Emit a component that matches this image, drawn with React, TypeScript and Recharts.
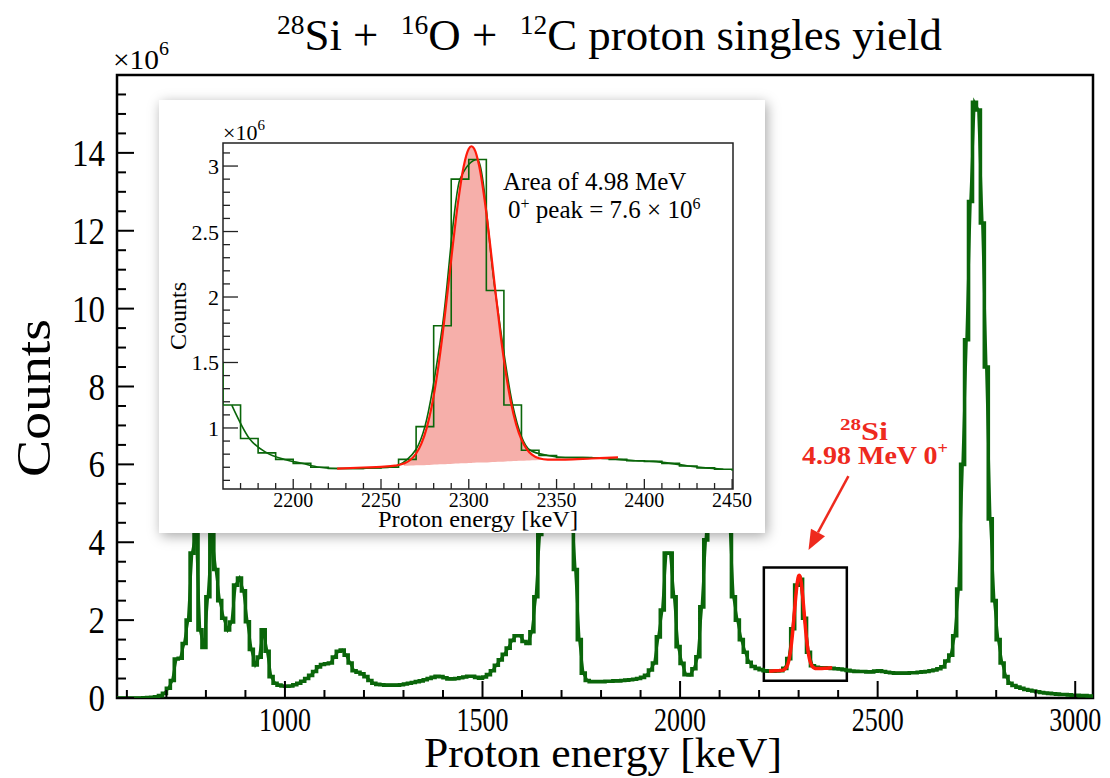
import React from 'react';
import {
  Area,
  ComposedChart,
  Line,
  ReferenceArea,
  ReferenceLine,
  XAxis,
  YAxis,
} from 'recharts';

const SERIF = '"Liberation Serif", "Times New Roman", serif';
const GREEN = '#0a660a';
const FIT_RED = '#ff1a0a';
const NOTE_RED = '#ee2a1e';

// proton singles histogram: 10 keV bins, first bin starts at 570 keV, counts in units of 1e6
const BIN_START = 570;
const BIN_WIDTH = 10;
const COUNTS = [
  0, 0, 0, 0, 0, 0, 0, 0.005, 0.01, 0.02, // 570
  0.03, 0.06, 0.12, 0.25, 0.45, 1.0, 1.02, 1.4, 2.0, 3.72, // 670
  4.25, 1.75, 1.3, 2.6, 4.2, 3.3, 2.5, 2.05, 1.75, 1.95, // 770
  2.9, 3.08, 2.75, 1.96, 1.25, 0.85, 1.05, 1.75, 1.2, 0.55, // 870
  0.38, 0.33, 0.31, 0.3, 0.31, 0.34, 0.38, 0.43, 0.5, 0.58, // 970
  0.68, 0.8, 0.86, 0.88, 0.9, 1.05, 1.2, 1.23, 1.1, 0.9, // 1070
  0.7, 0.66, 0.62, 0.55, 0.45, 0.38, 0.35, 0.34, 0.33, 0.33, // 1170
  0.33, 0.33, 0.34, 0.36, 0.38, 0.4, 0.42, 0.44, 0.47, 0.5, // 1270
  0.53, 0.56, 0.55, 0.52, 0.49, 0.49, 0.5, 0.52, 0.54, 0.56, // 1370
  0.56, 0.53, 0.51, 0.54, 0.6, 0.7, 0.84, 0.98, 1.12, 1.28, // 1470
  1.48, 1.6, 1.6, 1.45, 1.4, 1.7, 2.6, 4.2, 6.0, 7.6, // 1570
  8.4, 8.6, 8.2, 7.2, 6.0, 5.0, 3.3, 1.5, 0.64, 0.45, // 1670
  0.42, 0.42, 0.42, 0.42, 0.43, 0.43, 0.44, 0.44, 0.45, 0.46, // 1770
  0.47, 0.48, 0.5, 0.53, 0.58, 0.72, 0.9, 1.57, 2.26, 3.72, // 1870
  3.72, 2.6, 1.32, 0.89, 0.6, 0.59, 0.75, 1.06, 2.34, 4.06, // 1970
  5.6, 6.5, 6.8, 6.6, 6.0, 4.6, 2.6, 2.0, 1.5, 1.175, // 2070
  0.92, 0.81, 0.76, 0.73, 0.7, 0.69, 0.69, 0.695, 0.7, 0.76, // 2170
  1.01, 1.78, 2.9, 3.05, 2.05, 1.175, 0.83, 0.79, 0.775, 0.775, // 2270
  0.77, 0.76, 0.75, 0.745, 0.73, 0.71, 0.695, 0.685, 0.68, 0.68, // 2370
  0.67, 0.67, 0.69, 0.7, 0.68, 0.66, 0.65, 0.64, 0.64, 0.64, // 2470
  0.64, 0.65, 0.65, 0.66, 0.67, 0.68, 0.7, 0.72, 0.75, 0.8, // 2570
  0.95, 1.1, 1.6, 2.8, 6.0, 9.2, 12.75, 15.3, 15.1, 12.2, // 2670
  8.5, 4.6, 2.5, 1.5, 0.9, 0.55, 0.38, 0.32, 0.28, 0.25, // 2770
  0.22, 0.2, 0.18, 0.16, 0.14, 0.13, 0.12, 0.11, 0.1, 0.09, // 2870
  0.09, 0.08, 0.07, 0.07, 0.06, 0.06, 0.05, 0.05, // 2970
];

// gaussian + linear background fit of the 4.98 MeV 0+ peak (keV, x1e6)
const FIT_E = [
  2225, 2240, 2250, 2258, 2263, 2267, 2270, 2273, 2276, 2279, 2282, 2285, 2288, 2291,
  2294, 2297, 2300, 2301.5, 2303, 2306, 2309, 2312, 2315, 2318, 2321, 2324, 2327, 2330,
  2333, 2336, 2340, 2345, 2355, 2370, 2385,
];
const FIT_Y = [
  0.69, 0.698, 0.703, 0.712, 0.728, 0.759, 0.805, 0.881, 0.999, 1.173, 1.409, 1.706, 2.048, 2.407,
  2.736, 2.991, 3.132, 3.151, 3.134, 2.996, 2.744, 2.419, 2.063, 1.724, 1.43, 1.197, 1.027, 0.912,
  0.839, 0.796, 0.769, 0.759, 0.759, 0.767, 0.775,
];
// shaded peak area: lower edge (background line) under the fit
const AREA_E = [
  2263, 2267, 2270, 2273, 2276, 2279, 2282, 2285, 2288, 2291, 2294, 2297, 2300, 2301.5,
  2303, 2306, 2309, 2312, 2315, 2318, 2321, 2324, 2327, 2330, 2333, 2336, 2340, 2345,
];
const AREA_LOW = [
  0.711, 0.713, 0.715, 0.716, 0.718, 0.72, 0.722, 0.723, 0.725, 0.727, 0.729, 0.73, 0.732, 0.733,
  0.734, 0.736, 0.737, 0.739, 0.741, 0.742, 0.744, 0.746, 0.748, 0.749, 0.751, 0.753, 0.755, 0.758,
];

const MAIN_X_TICKS = [
  600, 700, 800, 900, 1000, 1100, 1200, 1300, 1400, 1500, 1600, 1700, 1800, 1900, 2000, 2100,
  2200, 2300, 2400, 2500, 2600, 2700, 2800, 2900, 3000,
];
const MAIN_Y_TICKS = [
  0, 0.5, 1, 1.5, 2, 2.5, 3, 3.5, 4, 4.5, 5, 5.5, 6, 6.5, 7, 7.5, 8, 8.5, 9, 9.5, 10, 10.5, 11,
  11.5, 12, 12.5, 13, 13.5, 14, 14.5, 15, 15.5,
];
const INSET_X_TICKS = [
  2170, 2180, 2190, 2200, 2210, 2220, 2230, 2240, 2250, 2260, 2270, 2280, 2290, 2300, 2310,
  2320, 2330, 2340, 2350, 2360, 2370, 2380, 2390, 2400, 2410, 2420, 2430, 2440, 2450,
];
const INSET_Y_TICKS = [
  0.6, 0.7, 0.8, 0.9, 1, 1.1, 1.2, 1.3, 1.4, 1.5, 1.6, 1.7, 1.8, 1.9, 2, 2.1, 2.2, 2.3, 2.4, 2.5,
  2.6, 2.7, 2.8, 2.9, 3, 3.1,
];
const INSET_RANGE = [2160, 2450.5];

const histSteps = [
  ...COUNTS.map((c, i) => ({ e: BIN_START + i * BIN_WIDTH, c })),
  { e: BIN_START + COUNTS.length * BIN_WIDTH, c: COUNTS[COUNTS.length - 1] },
];
const histCentres = COUNTS.map((c, i) => ({ e: BIN_START + (i + 0.5) * BIN_WIDTH, c }));
// the inset only smooths over the bins that it shows
const insetCentres = histCentres.filter((d) => d.e > INSET_RANGE[0] && d.e < INSET_RANGE[1]);
const fitData = FIT_E.map((e, i) => ({ e, y: FIT_Y[i] }));
const areaData = AREA_E.map((e, i) => ({
  e,
  band: [AREA_LOW[i], FIT_Y[FIT_E.indexOf(e)]],
}));

const isMultiple = (v: number, step: number) => Math.abs(v / step - Math.round(v / step)) < 1e-6;

function MainXTick(props: any) {
  const { x, y, payload } = props;
  const v = payload.value as number;
  const major = isMultiple(v, 500);
  return (
    <g>
      <line x1={x} x2={x} y1={y} y2={y - (major ? 17 : 8)} stroke="#000" strokeWidth={2} />
      {major && (
        <text
          x={x}
          y={y + 33}
          textAnchor="middle"
          fontFamily={SERIF}
          fontSize={33}
          textLength={52}
          lengthAdjust="spacingAndGlyphs"
        >
          {v}
        </text>
      )}
    </g>
  );
}

function MainYTick(props: any) {
  const { x, y, payload } = props;
  const v = payload.value as number;
  const major = isMultiple(v, 2);
  const label = String(v);
  return (
    <g>
      <line x1={x} x2={x + (major ? 17 : 9)} y1={y} y2={y} stroke="#000" strokeWidth={2} />
      {major && (
        <text
          x={x - 12}
          y={y + 13}
          textAnchor="end"
          fontFamily={SERIF}
          fontSize={38}
          textLength={label.length * 16.5}
          lengthAdjust="spacingAndGlyphs"
        >
          {label}
        </text>
      )}
    </g>
  );
}

function InsetXTick(props: any) {
  const { x, y, payload } = props;
  const v = payload.value as number;
  const major = isMultiple(v, 50);
  return (
    <g>
      <line x1={x} x2={x} y1={y} y2={y - (major ? 10 : 6)} stroke="#222" strokeWidth={1.3} />
      {major && (
        <text x={x} y={y + 18} textAnchor="middle" fontFamily={SERIF} fontSize={20}>
          {v}
        </text>
      )}
    </g>
  );
}

function InsetYTick(props: any) {
  const { x, y, payload } = props;
  const v = payload.value as number;
  const major = isMultiple(v, 0.5);
  return (
    <g>
      <line x1={x} x2={x + (major ? 15 : 7)} y1={y} y2={y} stroke="#222" strokeWidth={1.3} />
      {major && (
        <text x={x - 4} y={y + 8} textAnchor="end" fontFamily={SERIF} fontSize={22}>
          {v}
        </text>
      )}
    </g>
  );
}

function Arrow(props: any) {
  const { x1, y1, x2, y2 } = props;
  const ang = Math.atan2(y2 - y1, x2 - x1);
  const len = 20;
  const half = 8;
  const bx = x2 - len * Math.cos(ang);
  const by = y2 - len * Math.sin(ang);
  const px = -Math.sin(ang) * half;
  const py = Math.cos(ang) * half;
  return (
    <g>
      <line x1={x1} y1={y1} x2={bx} y2={by} stroke={NOTE_RED} strokeWidth={2.5} />
      <polygon
        points={`${x2},${y2} ${bx + px},${by + py} ${bx - px},${by - py}`}
        fill={NOTE_RED}
      />
    </g>
  );
}

function MainChart() {
  return (
    <ComposedChart width={1110} height={778} margin={{ top: 75, right: 17, bottom: 40, left: 57 }}>
      <XAxis
        type="number"
        dataKey="e"
        domain={[575, 3045]}
        allowDataOverflow
        ticks={MAIN_X_TICKS}
        interval={0}
        height={40}
        tickSize={0}
        tickMargin={0}
        axisLine={false}
        tickLine={false}
        tick={(p: any) => <MainXTick {...p} />}
      />
      <YAxis
        type="number"
        domain={[0, 16]}
        allowDataOverflow
        ticks={MAIN_Y_TICKS}
        interval={0}
        width={60}
        tickSize={0}
        tickMargin={0}
        axisLine={false}
        tickLine={false}
        tick={(p: any) => <MainYTick {...p} />}
      />
      <ReferenceArea x1={575} x2={3045} y1={0} y2={16} fill="none" stroke="#000" strokeWidth={2.5} />
      <Line
        data={histSteps}
        dataKey="c"
        type="stepAfter"
        stroke={GREEN}
        strokeWidth={3.6}
        dot={false}
        isAnimationActive={false}
      />
      <Line
        data={histCentres}
        dataKey="c"
        type="linear"
        stroke={GREEN}
        strokeWidth={2.6}
        dot={false}
        isAnimationActive={false}
      />
      <Line
        data={fitData}
        dataKey="y"
        type="monotone"
        stroke={FIT_RED}
        strokeWidth={3.5}
        dot={false}
        isAnimationActive={false}
      />
      <ReferenceArea x1={2212} x2={2422} y1={0.44} y2={3.35} fill="none" stroke="#000" strokeWidth={2.5} />
      <ReferenceLine
        segment={[
          { x: 2426, y: 5.7 },
          { x: 2325, y: 3.8 },
        ]}
        shape={(p: any) => <Arrow {...p} />}
      />
    </ComposedChart>
  );
}

function InsetChart() {
  return (
    <ComposedChart width={606} height={433} margin={{ top: 43, right: 32, bottom: 14, left: 24 }}>
      <XAxis
        type="number"
        dataKey="e"
        domain={INSET_RANGE}
        allowDataOverflow
        ticks={INSET_X_TICKS}
        interval={0}
        height={30}
        tickSize={0}
        tickMargin={0}
        axisLine={false}
        tickLine={false}
        tick={(p: any) => <InsetXTick {...p} />}
      />
      <YAxis
        type="number"
        domain={[0.534, 3.176]}
        allowDataOverflow
        ticks={INSET_Y_TICKS}
        interval={0}
        width={40}
        tickSize={0}
        tickMargin={0}
        axisLine={false}
        tickLine={false}
        tick={(p: any) => <InsetYTick {...p} />}
      />
      <ReferenceArea
        x1={INSET_RANGE[0]}
        x2={INSET_RANGE[1]}
        y1={0.534}
        y2={3.176}
        fill="none"
        stroke="#222"
        strokeWidth={1.5}
      />
      <Line
        data={histSteps}
        dataKey="c"
        type="stepAfter"
        stroke={GREEN}
        strokeWidth={1.6}
        dot={false}
        isAnimationActive={false}
      />
      <Line
        data={insetCentres}
        dataKey="c"
        type="monotone"
        stroke={GREEN}
        strokeWidth={1.6}
        dot={false}
        isAnimationActive={false}
      />
      <Area
        data={areaData}
        dataKey="band"
        type="monotone"
        fill="#e8362a"
        fillOpacity={0.4}
        stroke="none"
        isAnimationActive={false}
      />
      <Line
        data={fitData}
        dataKey="y"
        type="monotone"
        stroke={FIT_RED}
        strokeWidth={2.2}
        dot={false}
        isAnimationActive={false}
      />
    </ComposedChart>
  );
}

export default function App() {
  const pre: React.CSSProperties = { whiteSpace: 'pre' };
  return (
    <div style={{ position: 'absolute', left: 0, top: 0, width: 1110, height: 778, background: '#fff' }}>
      <div style={{ position: 'absolute', left: 0, top: 0 }}>
        <MainChart />
      </div>
      <svg
        width={1110}
        height={778}
        style={{ position: 'absolute', left: 0, top: 0, pointerEvents: 'none' }}
        fontFamily={SERIF}
      >
        <text x={277} y={50} fontSize={44} textLength={665} lengthAdjust="spacingAndGlyphs" style={pre}>
          <tspan fontSize={27} dy={-16}>28</tspan>
          <tspan dy={16}>Si +  </tspan>
          <tspan fontSize={27} dy={-16}>16</tspan>
          <tspan dy={16}>O +  </tspan>
          <tspan fontSize={27} dy={-16}>12</tspan>
          <tspan dy={16}>C proton singles yield</tspan>
        </text>
        <text x={113} y={69} fontSize={28} textLength={56} lengthAdjust="spacingAndGlyphs">
          <tspan>×10</tspan>
          <tspan fontSize={19} dy={-14}>6</tspan>
        </text>
        <text
          transform="translate(50,398) rotate(-90)"
          textAnchor="middle"
          fontSize={48}
          textLength={158}
          lengthAdjust="spacingAndGlyphs"
        >
          Counts
        </text>
        <text x={603} y={767} textAnchor="middle" fontSize={43} textLength={358} lengthAdjust="spacingAndGlyphs">
          Proton energy [keV]
        </text>
        <text x={840} y={440} fill={NOTE_RED} fontWeight="bold" fontSize={26} textLength={48} lengthAdjust="spacingAndGlyphs">
          <tspan fontSize={17} dy={-10}>28</tspan>
          <tspan dy={10}>Si</tspan>
        </text>
        <text x={802} y={464} fill={NOTE_RED} fontWeight="bold" fontSize={26} textLength={146} lengthAdjust="spacingAndGlyphs">
          <tspan>4.98 MeV 0</tspan>
          <tspan fontSize={17} dy={-10}>+</tspan>
        </text>
      </svg>
      <div
        style={{
          position: 'absolute',
          left: 159,
          top: 100,
          width: 606,
          height: 433,
          background: '#fff',
          boxShadow: '2px 3px 12px rgba(0,0,0,0.35)',
        }}
      >
        <InsetChart />
        <svg
          width={606}
          height={433}
          style={{ position: 'absolute', left: 0, top: 0, pointerEvents: 'none' }}
          fontFamily={SERIF}
        >
          <text x={64} y={40} fontSize={22}>
            <tspan>×10</tspan>
            <tspan fontSize={15} dy={-10}>6</tspan>
          </text>
          <text transform="translate(27,216) rotate(-90)" textAnchor="middle" fontSize={24}>
            Counts
          </text>
          <text x={219} y={427} fontSize={24} textLength={200} lengthAdjust="spacingAndGlyphs">
            Proton energy [keV]
          </text>
          <text x={344} y={90} fontSize={25}>
            Area of 4.98 MeV
          </text>
          <text x={349} y={118} fontSize={25} style={pre}>
            <tspan>0</tspan>
            <tspan fontSize={16} dy={-9}>+</tspan>
            <tspan dy={9}> peak = 7.6 × 10</tspan>
            <tspan fontSize={16} dy={-9}>6</tspan>
          </text>
        </svg>
      </div>
    </div>
  );
}
